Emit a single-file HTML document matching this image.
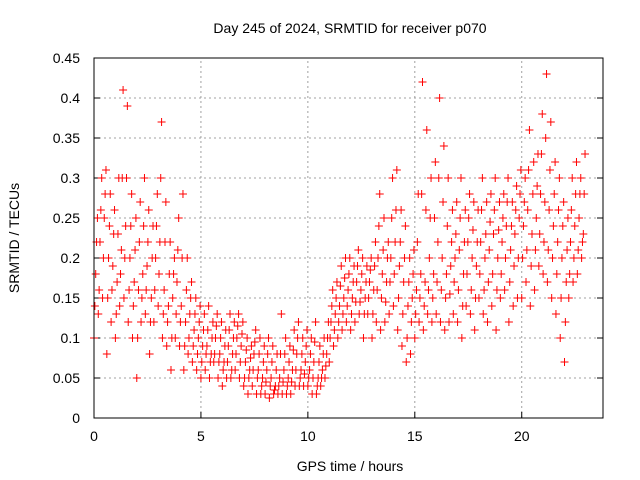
<!DOCTYPE html>
<html><head><meta charset="utf-8"><style>
body{margin:0;background:#fff;}
svg{display:block;font-family:"Liberation Sans",sans-serif;}
</style></head><body>
<svg id="chart" width="640" height="480">
<text x="350" y="33" font-size="14" text-anchor="middle" fill="#000">Day 245 of 2024, SRMTID for receiver p070</text>
<text x="350" y="471" font-size="14" text-anchor="middle">GPS time / hours</text>
<text x="0" y="0" font-size="14" text-anchor="middle" transform="translate(19,238) rotate(-90)">SRMTID / TECUs</text>
<g id="grid"></g>
<g id="ticks"></g>
<g id="pts"></g>
<rect x="94" y="58" width="509" height="360" fill="none" stroke="#000" stroke-width="1"/>
</svg>
<script>
const xTicks=[0,5,10,15,20];
const yTicks=[0,0.05,0.1,0.15,0.2,0.25,0.3,0.35,0.4,0.45];
const yTickLabels=["0","0.05","0.1","0.15","0.2","0.25","0.3","0.35","0.4","0.45"];
const tStart=0, tStep=0.2;
const lowVals=[0.1,0.13,0.15,0.08,0.12,0.1,0.14,0.15,0.12,0.1,0.05,0.12,0.13,0.08,0.12,0.14,0.1,0.09,0.06,0.1,0.09,0.06,0.08,0.07,0.06,0.05,0.06,0.05,0.07,0.05,0.04,0.05,0.05,0.06,0.05,0.04,0.03,0.04,0.03,0.03,0.03,0.025,0.03,0.03,0.03,0.03,0.03,0.04,0.04,0.04,0.04,0.03,0.03,0.04,0.05,0.07,0.09,0.1,0.11,0.12,0.11,0.12,0.13,0.1,0.13,0.1,0.12,0.11,0.12,0.13,0.14,0.11,0.09,0.07,0.08,0.1,0.12,0.11,0.13,0.12,0.13,0.12,0.11,0.12,0.13,0.12,0.1,0.14,0.13,0.11,0.15,0.13,0.12,0.14,0.11,0.15,0.16,0.12,0.14,0.15,0.15,0.17,0.14,0.16,0.19,0.18,0.17,0.15,0.13,0.1,0.07,0.15,0.17,0.18,0.2];
const lowMidVals=[0.14,0.16,0.2,0.15,0.16,0.13,0.18,0.2,0.16,0.14,0.1,0.15,0.16,0.12,0.16,0.18,0.13,0.12,0.1,0.13,0.12,0.09,0.1,0.09,0.08,0.07,0.08,0.07,0.08,0.07,0.06,0.07,0.06,0.08,0.07,0.05,0.05,0.06,0.05,0.04,0.045,0.04,0.035,0.04,0.045,0.04,0.045,0.06,0.05,0.055,0.05,0.05,0.04,0.05,0.065,0.1,0.11,0.12,0.13,0.14,0.13,0.145,0.145,0.13,0.15,0.13,0.16,0.15,0.145,0.17,0.18,0.15,0.13,0.1,0.12,0.13,0.15,0.14,0.16,0.15,0.17,0.16,0.15,0.155,0.17,0.16,0.14,0.18,0.16,0.15,0.18,0.16,0.17,0.18,0.16,0.18,0.2,0.17,0.19,0.2,0.2,0.21,0.19,0.21,0.23,0.22,0.21,0.2,0.18,0.15,0.12,0.18,0.2,0.21,0.22];
const midVals=[0.18,0.22,0.25,0.2,0.19,0.17,0.21,0.24,0.2,0.17,0.16,0.18,0.19,0.15,0.2,0.22,0.16,0.14,0.15,0.17,0.14,0.12,0.13,0.11,0.1,0.09,0.09,0.08,0.1,0.08,0.07,0.09,0.08,0.1,0.09,0.07,0.06,0.08,0.06,0.05,0.06,0.05,0.04,0.05,0.06,0.05,0.06,0.08,0.06,0.07,0.06,0.07,0.05,0.06,0.08,0.12,0.13,0.14,0.15,0.16,0.15,0.17,0.16,0.15,0.17,0.16,0.2,0.18,0.17,0.2,0.22,0.19,0.17,0.14,0.15,0.16,0.18,0.17,0.2,0.18,0.22,0.2,0.18,0.19,0.2,0.21,0.18,0.22,0.2,0.19,0.22,0.2,0.21,0.23,0.2,0.22,0.24,0.21,0.23,0.25,0.24,0.26,0.23,0.25,0.28,0.27,0.26,0.24,0.22,0.2,0.17,0.22,0.24,0.25,0.23];
const midHighVals=[0.22,0.26,0.28,0.24,0.23,0.23,0.3,0.3,0.24,0.21,0.22,0.24,0.22,0.2,0.24,0.3,0.22,0.18,0.18,0.21,0.2,0.16,0.15,0.13,0.12,0.11,0.11,0.1,0.115,0.1,0.09,0.11,0.1,0.115,0.105,0.085,0.075,0.095,0.08,0.07,0.08,0.07,0.06,0.08,0.08,0.07,0.085,0.1,0.08,0.09,0.08,0.095,0.07,0.08,0.1,0.14,0.15,0.165,0.175,0.18,0.17,0.19,0.18,0.17,0.185,0.19,0.24,0.21,0.2,0.25,0.26,0.22,0.2,0.17,0.18,0.22,0.28,0.26,0.25,0.25,0.3,0.27,0.24,0.22,0.23,0.25,0.22,0.25,0.235,0.22,0.26,0.23,0.245,0.26,0.235,0.25,0.27,0.24,0.26,0.28,0.27,0.31,0.28,0.29,0.33,0.35,0.31,0.28,0.26,0.24,0.21,0.26,0.28,0.28,0.28];
const highVals=[0.25,0.3,0.31,0.28,0.26,0.3,0.41,0.39,0.28,0.25,0.27,0.3,0.26,0.24,0.28,0.37,0.27,0.22,0.2,0.25,0.28,0.2,0.17,0.15,0.14,0.13,0.14,0.12,0.13,0.12,0.11,0.13,0.12,0.13,0.12,0.1,0.09,0.11,0.1,0.09,0.1,0.09,0.08,0.13,0.1,0.09,0.11,0.12,0.1,0.11,0.1,0.12,0.09,0.1,0.12,0.16,0.17,0.19,0.2,0.2,0.19,0.21,0.2,0.19,0.2,0.22,0.28,0.25,0.22,0.3,0.31,0.26,0.24,0.2,0.21,0.28,0.42,0.36,0.3,0.32,0.4,0.34,0.3,0.26,0.27,0.3,0.26,0.28,0.27,0.26,0.3,0.27,0.28,0.3,0.27,0.28,0.3,0.27,0.29,0.31,0.3,0.36,0.32,0.33,0.38,0.43,0.37,0.32,0.3,0.27,0.25,0.3,0.32,0.3,0.33];
const X0=94,X1=603,Y0=418,Y1=58,XMAX=23.8,YMAX=0.45;
function xs(v){return X0+(v/XMAX)*(X1-X0);}
function ys(v){return Y0-(v/YMAX)*(Y0-Y1);}
const NS="http://www.w3.org/2000/svg";
function mk(tag,attrs,parent){const e=document.createElementNS(NS,tag);for(const k in attrs)e.setAttribute(k,attrs[k]);parent.appendChild(e);return e;}
const grid=document.getElementById('grid'),ticks=document.getElementById('ticks'),pts=document.getElementById('pts');
xTicks.forEach(v=>{const x=xs(v);
 if(v>0){const g=mk('line',{x1:x,x2:x,y1:Y0,y2:Y1,stroke:'#a0a0a0','stroke-dasharray':'2,3'},grid);
 
 }
 mk('line',{x1:x,x2:x,y1:Y0,y2:Y0-6,stroke:'#000'},ticks);
 const t=mk('text',{x:x,y:Y0+23,'font-size':14,'text-anchor':'middle'},ticks);t.textContent=v;
 
 });
yTicks.forEach((v,i)=>{const y=ys(v);
 if(v>0&&v<YMAX){const g=mk('line',{x1:X0,x2:X1,y1:y,y2:y,stroke:'#a0a0a0','stroke-dasharray':'2,3'},grid);
 
 }
 mk('line',{x1:X0,x2:X0+6,y1:y,y2:y,stroke:'#000'},ticks);
 mk('line',{x1:X1,x2:X1-6,y1:y,y2:y,stroke:'#000'},ticks);
 const t=mk('text',{x:X0-14,y:y+5,'font-size':14,'text-anchor':'end'},ticks);t.textContent=yTickLabels[i];
 
 });
function plus(t,v){const x=xs(t),y=ys(v);
 const p=mk('path',{d:`M${x-4} ${y}H${x+4}M${x} ${y-4}V${y+4}`,stroke:'#f00','stroke-width':1,fill:'none'},pts);
 
 }
[[lowVals,0],[lowMidVals,0.04],[midVals,0.08],[midHighVals,0.12],[highVals,0.16]].forEach(([arr,off])=>{
 arr.forEach((v,i)=>plus(tStart+i*tStep+off,v));});
</script>
</body></html>
